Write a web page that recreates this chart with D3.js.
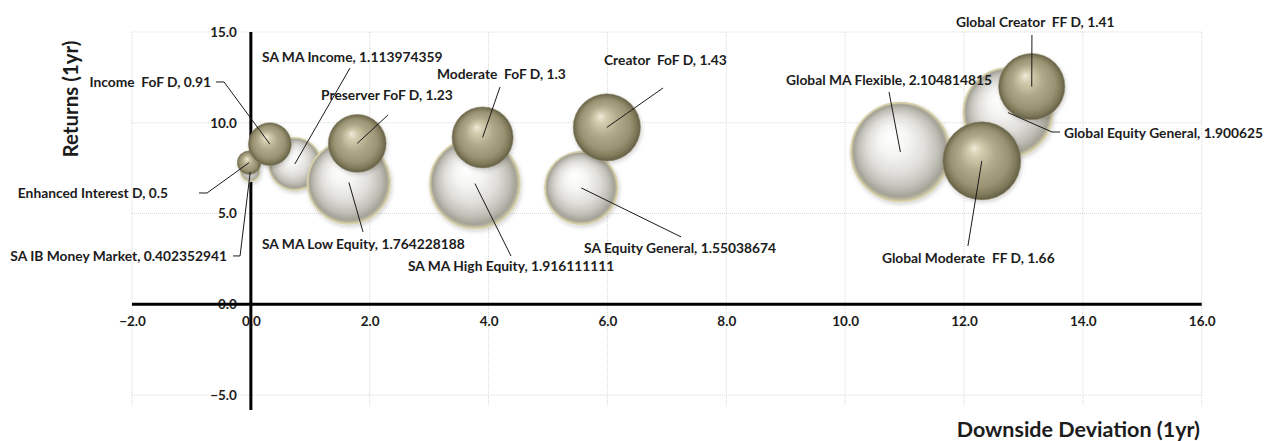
<!DOCTYPE html>
<html>
<head>
<meta charset="utf-8">
<script src="https://cdn.jsdelivr.net/npm/d3@7"></script>
<style>
  body { margin: 0; background: #ffffff; }
  svg text { font-family: Lato, "Open Sans", "DejaVu Sans", sans-serif; fill: #1c1c1c; }
</style>
</head>
<body>
<svg id="chart" width="1271" height="441"></svg>
<script>
// ---- data ----
const fundNames = [
  "Enhanced Interest D", "SA IB Money Market", "Income  FoF D", "SA MA Income",
  "Preserver FoF D", "SA MA Low Equity", "Moderate  FoF D", "SA MA High Equity",
  "Creator  FoF D", "SA Equity General", "Global MA Flexible", "Global Moderate  FF D",
  "Global Equity General", "Global Creator  FF D"
];
const downsideDeviation = [-0.03, -0.01, 0.32, 0.74, 1.79, 1.65, 3.90, 3.77, 5.99, 5.56, 10.93, 12.30, 12.74, 13.14];
const returns1yr        = [7.80, 7.29, 8.82, 7.73, 8.86, 6.71, 9.19, 6.65, 9.74, 6.41, 8.39, 7.90, 10.56, 11.99];
const bubbleValues      = [0.5, 0.402352941, 0.91, 1.113974359, 1.23, 1.764228188, 1.3, 1.916111111,
                           1.43, 1.55038674, 2.104814815, 1.66, 1.900625, 1.41];
const seriesGroup       = ["fund", "sector", "fund", "sector", "fund", "sector", "fund", "sector",
                           "fund", "sector", "sector", "fund", "sector", "fund"];
const xTickValues = [-2, 0, 2, 4, 6, 8, 10, 12, 14, 16];
const yTickValues = [-5, 0, 5, 10, 15];

// label placement, in pixels relative to each bubble centre:
// [text dx, text dy, anchor, leader points...]
const labelLayout = [
  [-81, 30.3, "end",   [[-50, 30.3], [-42, 30.3]]],
  [-23.2, 84, "end",   [[-17.2, 84], [-10.2, 84]]],
  [-58.8, -62.2, "end",[[-53.8, -62.2], [-45.8, -62.2]]],
  [-32.8, -107, "start", [[55.2, -96]]],
  [-36.2, -48.5, "start", [[30.8, -28.5]]],
  [-86.9, 61.5, "start", [[14.1, 49.5]]],
  [-45.6, -63.5, "start", [[17.4, -50.5]]],
  [-66.9, 82.4, "start", [[36.1, 72.4]]],
  [-2.8, -67.5, "start", [[56.2, -39.5]]],
  [2.8, 60, "start",   [[99.8, 49]]],
  [-114.4, -72, "start", [[-11.4, -60]]],
  [-99.9, 97.1, "start", [[-13.9, 85.1]]],
  [56, 20.4, "start",  [[52, 19.4], [44, 19.4]]],
  [-75.8, -64.7, "start", [[0.2, -51.7]]]
];

const rows = fundNames.map((name, i) => ({
  name, x: downsideDeviation[i], y: returns1yr[i], v: bubbleValues[i],
  group: seriesGroup[i], layout: labelLayout[i]
}));

// ---- scales ----
const svg = d3.select("#chart");
const x = d3.scaleLinear().domain([-2, 16]).range([132, 1201.7]);
const y = d3.scaleLinear().domain([-5.55, 15]).range([405, 32]);
const r = d3.scaleLinear().domain([0, d3.max(bubbleValues)]).range([0, 49.5]);

// ---- gradients ----
const defs = svg.append("defs");
function sphere(id, stops) {
  const g = defs.append("radialGradient").attr("id", id)
    .attr("cx", 0.5).attr("cy", 0.5).attr("r", 0.5)
    .attr("fx", 0.4).attr("fy", 0.33);
  stops.forEach(([o, c]) => g.append("stop").attr("offset", o).attr("stop-color", c));
}
sphere("tanBall", [
  [0, "#efeada"], [0.18, "#d2cbad"], [0.45, "#b1aa8a"], [0.75, "#9a9373"],
  [0.9, "#7f7959"], [1, "#625d46"]
]);
sphere("whiteBall", [
  [0, "#ffffff"], [0.3, "#f5f5f3"], [0.58, "#dfdeda"], [0.8, "#c0bfb7"],
  [0.93, "#a4a296"], [1, "#d3cda8"]
]);
const shadow = defs.append("filter").attr("id", "soft")
  .attr("x", "-20%").attr("y", "-20%").attr("width", "150%").attr("height", "150%");
shadow.append("feDropShadow").attr("dx", 1).attr("dy", 2).attr("stdDeviation", 2)
  .attr("flood-color", "#000").attr("flood-opacity", 0.18);

// ---- gridlines ----
const grid = svg.append("g").attr("stroke", "#d9d9d6").attr("stroke-width", 1)
  .attr("stroke-dasharray", "1,1");
grid.selectAll("line.h").data(yTickValues).join("line").attr("class", "h")
  .attr("x1", x(-2)).attr("x2", x(16)).attr("y1", d => y(d)).attr("y2", d => y(d));
grid.selectAll("line.v").data(xTickValues).join("line").attr("class", "v")
  .attr("x1", d => x(d)).attr("x2", d => x(d)).attr("y1", y(15)).attr("y2", y(-5.55));

// ---- axes ----
const xAxis = d3.axisBottom(x).tickValues(xTickValues).tickFormat(d3.format(".1f")).tickSize(0).tickPadding(12);
const yAxis = d3.axisLeft(y).tickValues(yTickValues).tickFormat(d3.format(".1f")).tickSize(0).tickPadding(14);

const gy = svg.append("g").attr("transform", `translate(${x(0)},0)`).call(yAxis);
gy.select(".domain").remove();
gy.selectAll("text").attr("font-size", 13.5).attr("font-weight", 700)
  .style("font-family", "Lato, sans-serif").attr("fill", "#1c1c1c");

const gx = svg.append("g").attr("transform", `translate(0,${y(0)})`).call(xAxis);
gx.select(".domain").remove();
gx.selectAll("text").attr("font-size", 13.5).attr("font-weight", 700)
  .style("font-family", "Lato, sans-serif").attr("fill", "#1c1c1c");

svg.append("line").attr("x1", x(-2)).attr("x2", x(16)).attr("y1", y(0)).attr("y2", y(0))
  .attr("stroke", "#000").attr("stroke-width", 3);
svg.append("line").attr("x1", x(0)).attr("x2", x(0)).attr("y1", y(15)).attr("y2", 410)
  .attr("stroke", "#000").attr("stroke-width", 3);

// ---- bubbles: sectors first, funds on top ----
const ordered = rows.filter(d => d.group === "sector").concat(rows.filter(d => d.group === "fund"));
svg.append("g").selectAll("circle").data(ordered).join("circle")
  .attr("cx", d => x(d.x)).attr("cy", d => y(d.y)).attr("r", d => r(d.v))
  .attr("fill", d => d.group === "fund" ? "url(#tanBall)" : "url(#whiteBall)")
  .attr("stroke", d => d.group === "fund" ? "#8e8868" : "#d8d2ab")
  .attr("stroke-width", d => d.group === "fund" ? 0.6 : 1.5)
  .attr("filter", "url(#soft)");

// ---- leader lines ----
svg.append("g").selectAll("polyline").data(rows).join("polyline")
  .attr("fill", "none").attr("stroke", "#1a1a1a").attr("stroke-width", 1)
  .attr("points", d => {
    const cx = x(d.x), cy = y(d.y);
    const pts = d.layout[3].map(([dx, dy]) => [cx + dx, cy + dy]);
    pts.push([cx, cy]);
    return pts.map(p => p.join(",")).join(" ");
  });

// ---- data labels ----
const fmt = v => String(v);
svg.append("g").selectAll("text").data(rows).join("text")
  .attr("x", d => x(d.x) + d.layout[0])
  .attr("y", d => y(d.y) + d.layout[1])
  .attr("text-anchor", d => d.layout[2])
  .attr("dominant-baseline", "central")
  .attr("font-size", 13.8).attr("font-weight", 700)
  .style("white-space", "pre")
  .text(d => `${d.name}, ${fmt(d.v)}`);

// ---- axis titles ----
svg.append("text").attr("transform", "translate(70,99) rotate(-90)")
  .attr("text-anchor", "middle").attr("dominant-baseline", "central")
  .attr("font-size", 20.5).attr("font-weight", 700).text("Returns (1yr)");
svg.append("text").attr("x", 1200).attr("y", 429)
  .attr("text-anchor", "end").attr("dominant-baseline", "central")
  .attr("font-size", 21.5).attr("font-weight", 700).text("Downside Deviation (1yr)");
</script>
</body>
</html>
